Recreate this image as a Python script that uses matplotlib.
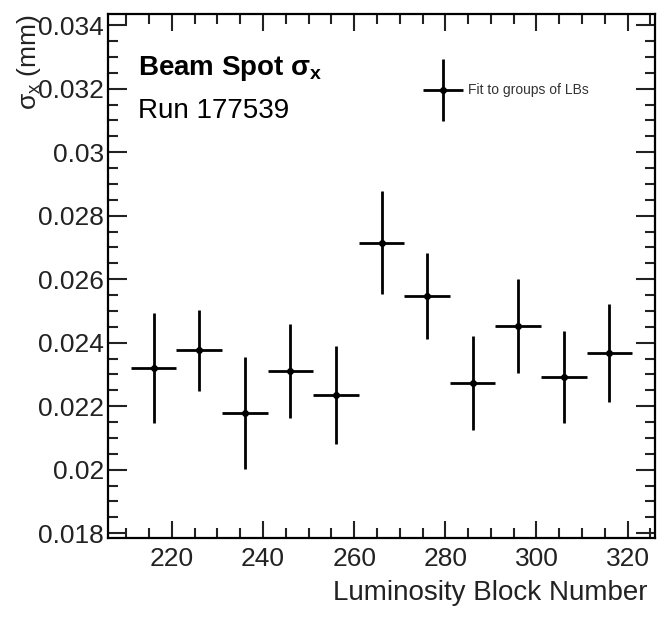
import matplotlib
matplotlib.use("Agg")
import matplotlib.pyplot as plt
from matplotlib.ticker import MultipleLocator

'''
Beam spot width sigma_x per group of luminosity blocks, run 177539
'''

# luminosity block group centres and half widths
lb = [216, 226, 236, 246, 256, 266, 276, 286, 296, 306, 316]
lb_halfwidth = [5, 5, 5, 5, 5, 5, 5, 5, 5, 5, 5]
# fitted sigma_x [mm] and its error
sigma_x = [0.02320, 0.02376, 0.02179, 0.02311, 0.02236, 0.02715,
           0.02547, 0.02273, 0.02452, 0.02291, 0.02367]
sigma_err = [0.00173, 0.00128, 0.00176, 0.00148, 0.00154, 0.00163,
             0.00135, 0.00148, 0.00148, 0.00145, 0.00154]

plt.rcParams['font.family'] = ['Liberation Sans', 'DejaVu Sans']
plt.rcParams['mathtext.fontset'] = 'custom'
plt.rcParams['mathtext.rm'] = 'Liberation Sans'
plt.rcParams['mathtext.bf'] = 'Liberation Sans:bold'


def main():
    fig = plt.figure(figsize=(6.57, 6.26), dpi=100)
    ax = fig.add_axes([108/657, 1 - 538.3/626, 547/657, 524.3/626])

    ax.errorbar(lb, sigma_x, xerr=lb_halfwidth, yerr=sigma_err,
                fmt='o', color='black', markersize=4, elinewidth=2,
                capsize=0)

    # legend drawn by hand, ROOT style
    ax.errorbar([0.612], [0.855], xerr=[0.0366], yerr=[0.059],
                transform=ax.transAxes, fmt='o', color='black',
                markersize=4, elinewidth=2, capsize=0, clip_on=False)
    ax.text(0.658, 0.855, 'Fit to groups of LBs', transform=ax.transAxes,
            fontsize=10, va='center', ha='left', color='#333333')

    ax.text(0.055, 0.897, r'Beam Spot σ$_{\mathbf{x}}$', transform=ax.transAxes,
            fontsize=20, fontweight='bold', va='center', ha='left')
    ax.text(0.055, 0.815, 'Run 177539', transform=ax.transAxes,
            fontsize=20, va='center', ha='left')

    ax.set_xlim(206, 326)
    ax.set_ylim(0.01784, 0.03435)

    ax.xaxis.set_major_locator(MultipleLocator(20))
    ax.xaxis.set_minor_locator(MultipleLocator(5))
    ax.yaxis.set_major_locator(MultipleLocator(0.002))
    ax.yaxis.set_minor_locator(MultipleLocator(0.0005))
    ax.yaxis.set_major_formatter(plt.FuncFormatter(lambda v, p: ('%g' % round(v, 4))))

    ax.tick_params(axis='both', which='both', direction='in', top=True,
                   right=True, width=1.5, labelsize=19, colors='#222222')
    ax.tick_params(axis='x', which='major', length=12, pad=6)
    ax.tick_params(axis='x', which='minor', length=7)
    ax.tick_params(axis='y', which='major', length=14, pad=3)
    ax.tick_params(axis='y', which='minor', length=7.5)
    for s in ax.spines.values():
        s.set_linewidth(1.6)

    ax.set_xlabel('Luminosity Block Number', fontsize=20, loc='right', color='#222222')
    ax.xaxis.set_label_coords(0.987, -0.08)
    ax.set_ylabel(r'σ$_{\rm x}$ (mm)', fontsize=19, loc='top', color='#222222')
    ax.yaxis.set_label_coords(-0.118, 1.0)

    plt.savefig('out.png', dpi=100)


if __name__ == "__main__":
    main()
